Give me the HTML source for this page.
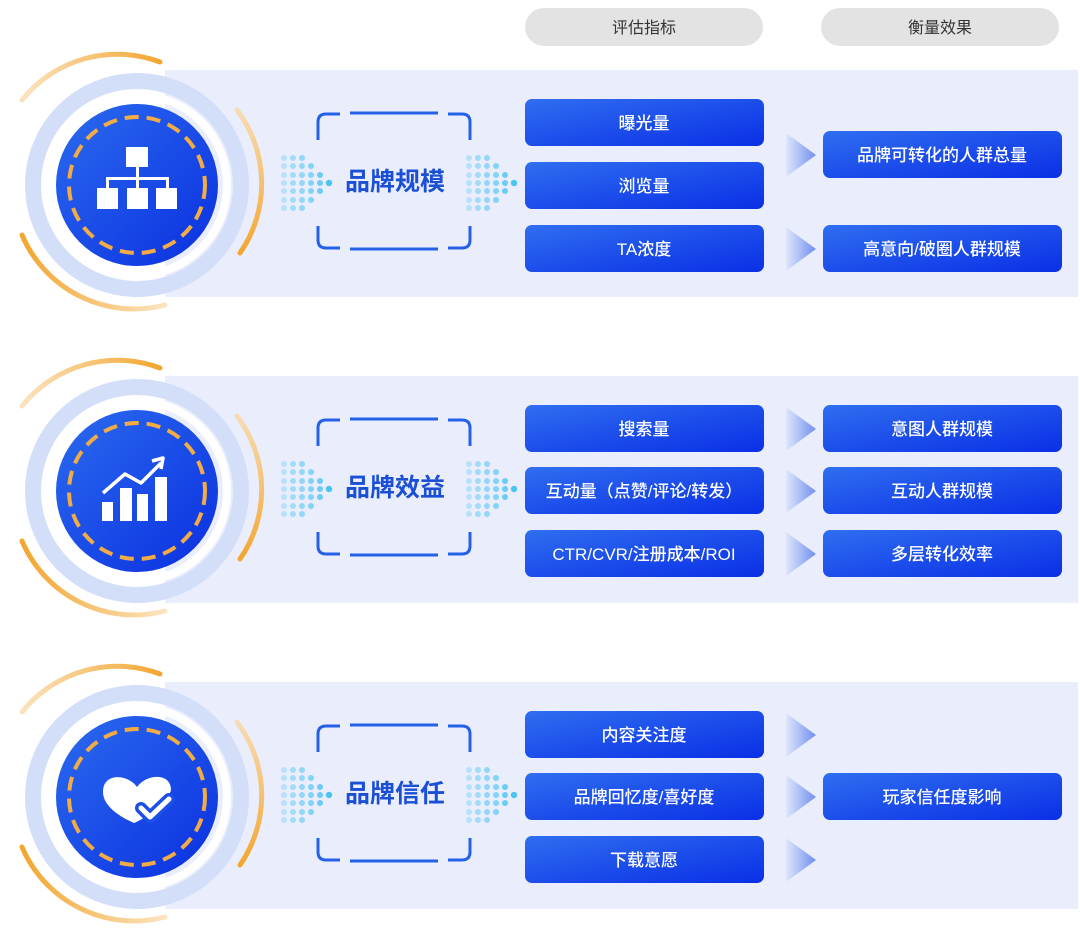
<!DOCTYPE html>
<html><head><meta charset="utf-8"><style>
body{margin:0;background:#fff;}
svg{display:block;font-family:"Liberation Sans","Noto Sans CJK SC",sans-serif;}
</style></head><body>
<svg width="1080" height="930" viewBox="0 0 1080 930" xmlns="http://www.w3.org/2000/svg">
<defs>
<linearGradient id="bx" x1="0" y1="0" x2="1" y2="1"><stop offset="0" stop-color="#2f6ef0"/><stop offset="1" stop-color="#0a2fe6"/></linearGradient>
<linearGradient id="cir" x1="0" y1="0" x2="1" y2="1"><stop offset="0" stop-color="#2b6bef"/><stop offset="1" stop-color="#0a2fe0"/></linearGradient>
<linearGradient id="tri" x1="0" y1="0" x2="1" y2="0"><stop offset="0" stop-color="#dfe6fb"/><stop offset="1" stop-color="#6f8ff0"/></linearGradient>
<linearGradient id="ora" x1="0" y1="0" x2="1" y2="0"><stop offset="0" stop-color="#fbe3bf"/><stop offset="1" stop-color="#f3a630"/></linearGradient>
<linearGradient id="ora2" x1="0" y1="0" x2="1" y2="0"><stop offset="0" stop-color="#f3a630"/><stop offset="1" stop-color="#fbe3bf"/></linearGradient>
<linearGradient id="ora3" x1="0" y1="0" x2="0" y2="1"><stop offset="0" stop-color="#f6dcb5"/><stop offset="1" stop-color="#f3a630"/></linearGradient>
<g id="dots" fill="#4cc3f5">
<circle cx="0" cy="-25" r="3" opacity=".3"/><circle cx="0" cy="-17" r="3" opacity=".3"/><circle cx="0" cy="-8" r="3" opacity=".3"/><circle cx="0" cy="0" r="3" opacity=".3"/><circle cx="0" cy="8" r="3" opacity=".3"/><circle cx="0" cy="17" r="3" opacity=".3"/><circle cx="0" cy="25" r="3" opacity=".3"/>
<circle cx="9" cy="-25" r="3" opacity=".45"/><circle cx="9" cy="-17" r="3" opacity=".45"/><circle cx="9" cy="-8" r="3" opacity=".45"/><circle cx="9" cy="0" r="3" opacity=".45"/><circle cx="9" cy="8" r="3" opacity=".45"/><circle cx="9" cy="17" r="3" opacity=".45"/><circle cx="9" cy="25" r="3" opacity=".45"/>
<circle cx="18" cy="-25" r="3" opacity=".55"/><circle cx="18" cy="-17" r="3" opacity=".55"/><circle cx="18" cy="-8" r="3" opacity=".55"/><circle cx="18" cy="0" r="3" opacity=".55"/><circle cx="18" cy="8" r="3" opacity=".55"/><circle cx="18" cy="17" r="3" opacity=".55"/><circle cx="18" cy="25" r="3" opacity=".55"/>
<circle cx="27" cy="-17" r="3" opacity=".65"/><circle cx="27" cy="-8" r="3" opacity=".65"/><circle cx="27" cy="0" r="3" opacity=".65"/><circle cx="27" cy="8" r="3" opacity=".65"/><circle cx="27" cy="17" r="3" opacity=".65"/>
<circle cx="36" cy="-8" r="3" opacity=".8"/><circle cx="36" cy="0" r="3" opacity=".8"/><circle cx="36" cy="8" r="3" opacity=".8"/>
<circle cx="45" cy="0" r="3.2"/>
</g>
<g id="sec">
<rect x="165" y="70" width="913" height="227" fill="#eaeefc"/>
<circle cx="137" cy="185" r="104" fill="none" stroke="#d3def8" stroke-width="16"/>
<circle cx="137" cy="185" r="90" fill="none" stroke="#fff" stroke-width="8"/>
<path d="M 22 235 A 122 122 0 0 0 165 305" fill="none" stroke="url(#ora2)" stroke-width="5" stroke-linecap="round"/>
<path d="M 22 100 A 122 122 0 0 1 160 62" fill="none" stroke="url(#ora)" stroke-width="5" stroke-linecap="round"/>
<path d="M 237 110 A 122 122 0 0 1 240 253" fill="none" stroke="url(#ora3)" stroke-width="5" stroke-linecap="round"/>
<circle cx="137" cy="185" r="81" fill="url(#cir)"/>
<circle cx="137" cy="185" r="68" fill="none" stroke="#f3ac45" stroke-width="4" stroke-dasharray="14 8"/>
<g fill="none" stroke="#2461e8" stroke-width="3">
<path d="M318 140 V122 Q318 114 326 114 H340"/><path d="M350 113 H438"/><path d="M448 114 H462 Q470 114 470 122 V140"/>
<path d="M318 226 V240 Q318 248 326 248 H340"/><path d="M350 249 H438"/><path d="M448 248 H462 Q470 248 470 240 V226"/>
</g>
<use href="#dots" x="284" y="183"/><use href="#dots" x="469" y="183"/>
</g>
<g id="lb"><rect x="0" y="0" width="239" height="47" rx="7" fill="url(#bx)"/></g>
<polygon id="tr" points="0,0 30,22 0,44" fill="url(#tri)"/>
</defs>
<rect x="525" y="8" width="238" height="38" rx="19" fill="#e3e3e3"/>
<text x="644" y="33" text-anchor="middle" font-size="16" fill="#333">评估指标</text>
<rect x="821" y="8" width="238" height="38" rx="19" fill="#e3e3e3"/>
<text x="940" y="33" text-anchor="middle" font-size="16" fill="#333">衡量效果</text>

<use href="#sec"/><use href="#sec" y="306"/><use href="#sec" y="612"/>

<g font-size="25" font-weight="bold" fill="#1a4fd6" text-anchor="middle">
<text x="395" y="190">品牌规模</text><text x="395" y="496">品牌效益</text><text x="395" y="802">品牌信任</text>
</g>

<g fill="#fff">
<rect x="126" y="147" width="22" height="20"/>
<rect x="97" y="188" width="21" height="21"/><rect x="127" y="188" width="21" height="21"/><rect x="156" y="188" width="21" height="21"/>
<path d="M136 167 h3 v10 h30 v11 h-3 v-8 h-27 v8 h-3 v-8 h-27 v8 h-3 v-11 h30z"/>
</g>
<g fill="#fff">
<rect x="102" y="502" width="11" height="19"/><rect x="120" y="488" width="12" height="33"/><rect x="137" y="494" width="11" height="27"/><rect x="155" y="477" width="12" height="44"/>
</g>
<polyline points="103,493 125,474 141,483 161,463" fill="none" stroke="#fff" stroke-width="3.5" stroke-linejoin="round"/>
<polyline points="152,461 163,458 161,469" fill="none" stroke="#fff" stroke-width="3.5" stroke-linejoin="round"/>
<path d="M137 787 C128 774 103 772 103 792 C103 806 120 817 134 823 C146 818 162 806 168 796 C170 793 171 791 171 790 C171 772 146 774 137 787Z" fill="#fff"/>
<polyline points="141,808 150,817 169,799" fill="none" stroke="#1b4fe6" stroke-width="12" stroke-linecap="round" stroke-linejoin="round"/>
<polyline points="141,808 150,817 169,799" fill="none" stroke="#fff" stroke-width="5" stroke-linecap="round" stroke-linejoin="round"/>

<use href="#lb" x="525" y="99"/><use href="#lb" x="525" y="162"/><use href="#lb" x="525" y="225"/>
<use href="#lb" x="525" y="405"/><use href="#lb" x="525" y="467"/><use href="#lb" x="525" y="530"/>
<use href="#lb" x="525" y="711"/><use href="#lb" x="525" y="773"/><use href="#lb" x="525" y="836"/>
<use href="#lb" x="823" y="131"/><use href="#lb" x="823" y="225"/>
<use href="#lb" x="823" y="405"/><use href="#lb" x="823" y="467"/><use href="#lb" x="823" y="530"/>
<use href="#lb" x="823" y="773"/>
<use href="#tr" x="786" y="133"/><use href="#tr" x="786" y="227"/>
<use href="#tr" x="786" y="407"/><use href="#tr" x="786" y="469"/><use href="#tr" x="786" y="532"/>
<use href="#tr" x="786" y="713"/><use href="#tr" x="786" y="775"/><use href="#tr" x="786" y="838"/>

<g font-size="17" font-weight="500" fill="#fff" text-anchor="middle">
<text x="644" y="129">曝光量</text><text x="644" y="192">浏览量</text><text x="644" y="255">TA浓度</text>
<text x="644" y="435">搜索量</text><text x="644" y="497">互动量（点赞/评论/转发）</text><text x="644" y="560">CTR/CVR/注册成本/ROI</text>
<text x="644" y="741">内容关注度</text><text x="644" y="803">品牌回忆度/喜好度</text><text x="644" y="866">下载意愿</text>
<text x="942" y="161">品牌可转化的人群总量</text><text x="942" y="255">高意向/破圈人群规模</text>
<text x="942" y="435">意图人群规模</text><text x="942" y="497">互动人群规模</text><text x="942" y="560">多层转化效率</text>
<text x="942" y="803">玩家信任度影响</text>
</g>
</svg>
</body></html>
